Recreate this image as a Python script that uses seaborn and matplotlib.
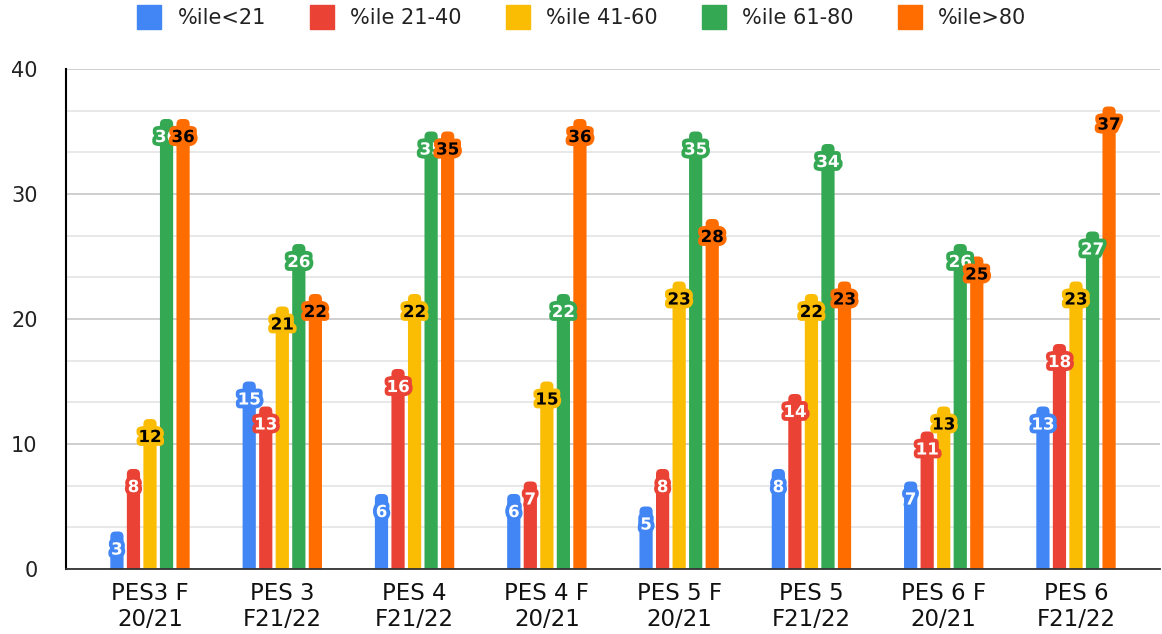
import numpy as np
import pandas as pd
import seaborn as sns
import matplotlib.pyplot as plt
import matplotlib.patheffects as pe
from matplotlib.patches import FancyBboxPatch
from matplotlib.lines import Line2D
from matplotlib.ticker import MultipleLocator

# ---- data -------------------------------------------------------------
categories = ["PES3 F\n20/21", "PES 3\nF21/22", "PES 4\nF21/22", "PES 4 F\n20/21",
              "PES 5 F\n20/21", "PES 5\nF21/22", "PES 6 F\n20/21", "PES 6\nF21/22"]
series_names = ["%ile<21", "%ile 21-40", "%ile 41-60", "%ile 61-80", "%ile>80"]
pct_lt21 = [3, 15, 6, 6, 5, 8, 7, 13]
pct_21_40 = [8, 13, 16, 7, 8, 14, 11, 18]
pct_41_60 = [12, 21, 22, 15, 23, 22, 13, 23]
pct_61_80 = [36, 26, 35, 22, 35, 34, 26, 27]
pct_gt80 = [36, 22, 35, 36, 28, 23, 25, 37]
y_ticks = [0, 10, 20, 30, 40]

colors = ["#4285F4", "#EA4335", "#FBBC04", "#34A853", "#FF6D01"]
label_colors = ["white", "white", "black", "white", "black"]

series_values = [pct_lt21, pct_21_40, pct_41_60, pct_61_80, pct_gt80]
df = pd.DataFrame({
    "group": np.tile(categories, len(series_names)),
    "series": np.repeat(series_names, len(categories)),
    "value": np.concatenate(series_values),
})

# ---- figure -----------------------------------------------------------
sns.set_theme(style="white")
plt.rcParams["font.family"] = ["DejaVu Sans"]

W, H = 1162, 634
fig = plt.figure(figsize=(W / 100, H / 100), dpi=100)
ax = fig.add_axes([66 / W, 65 / H, (1160 - 66) / W, 500 / H])

sns.barplot(data=df, x="group", y="value", hue="series", order=categories,
            hue_order=series_names, palette=colors, width=0.625, gap=0.2,
            saturation=1, legend=False, ax=ax)

ax.set_xlim(-0.635, 7.635)
ax.set_ylim(0, 40)

# data units per pixel, used to keep the rounded bar caps circular
x_per_px = (ax.get_xlim()[1] - ax.get_xlim()[0]) / (1160 - 66)
y_per_px = 40 / 500
radius = 5 * x_per_px
aspect = y_per_px / x_per_px

for i, cont in enumerate(ax.containers):
    for rect in list(cont):
        x0, w, h = rect.get_x(), rect.get_width(), rect.get_height()
        rect.remove()
        cap = FancyBboxPatch((x0, -2), w, h + 2,
                             boxstyle=f"round,pad=0,rounding_size={radius}",
                             mutation_aspect=aspect, fc=colors[i], ec="none",
                             zorder=2)
        ax.add_patch(cap)
        ax.annotate(f"{h:g}", xy=(x0 + w / 2, h), xytext=(0, -13),
                    textcoords="offset points", ha="center", va="center",
                    fontsize=12, fontweight="bold", color=label_colors[i],
                    zorder=5 + i,
                    path_effects=[pe.withStroke(linewidth=5.5, foreground=colors[i])])

# ---- axes styling -----------------------------------------------------
ax.set_xlabel("")
ax.set_ylabel("")
ax.set_yticks(y_ticks)
ax.yaxis.set_minor_locator(MultipleLocator(10 / 3))
ax.grid(axis="y", which="major", color="#cccccc", lw=1.3, zorder=0)
ax.grid(axis="y", which="minor", color="#e6e6e6", lw=1.3, zorder=0)
ax.set_axisbelow(True)

for s in ("top", "right"):
    ax.spines[s].set_visible(False)
ax.spines["left"].set_color("black")
ax.spines["left"].set_linewidth(1.5)
ax.spines["bottom"].set_color("#333333")
ax.spines["bottom"].set_linewidth(1.3)

ax.tick_params(axis="y", which="major", direction="inout", length=19, width=1.5,
               color="black", labelsize=15, pad=11, labelcolor="#222222")
ax.tick_params(axis="y", which="minor", direction="inout", length=9.5, width=1.5,
               color="black")
ax.tick_params(axis="x", length=0, labelsize=16.5, pad=9, labelcolor="#111111")

# ---- legend -----------------------------------------------------------
handles = [Line2D([], [], marker="s", linestyle="none", markersize=17.5,
                  markerfacecolor=c, markeredgecolor=c) for c in colors]
fig.legend(handles, series_names, loc="upper center", bbox_to_anchor=(0.497, 1.0),
           ncol=5, frameon=False, fontsize=15, handletextpad=0.35,
           columnspacing=1.7, labelcolor="#222222", borderaxespad=0.0)

fig.savefig("out.png", dpi=100)
